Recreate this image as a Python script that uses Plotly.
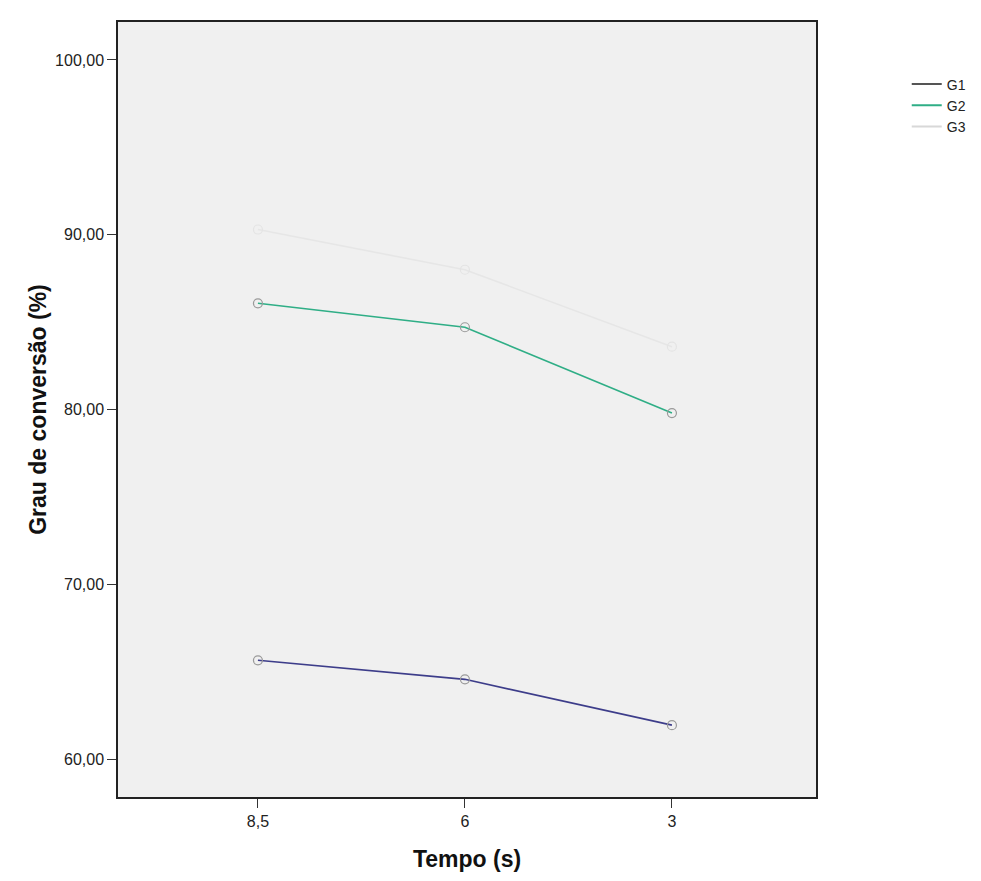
import plotly.graph_objects as go

categories = ["8,5", "6", "3"]
g1 = [65.66, 64.57, 61.95]
g2 = [86.08, 84.71, 79.80]
g3 = [90.3, 88.0, 83.6]
series_names = ["G1", "G2", "G3"]
series_values = [g1, g2, g3]
colors = ["#3d3d8a", "#2fae86", "#e6e6e6"]
marker_colors = ["#9a9a9a", "#9a9a9a", "#e4e4e4"]
legend_colors = ["#555555", "#2fae86", "#d8d8d8"]
y_ticks = [60, 70, 80, 90, 100]

fig = go.Figure()
for name, vals, col, mc in zip(series_names, series_values, colors, marker_colors):
    fig.add_trace(go.Scatter(
        x=categories, y=vals, name=name, mode="lines+markers",
        line=dict(color=col, width=1.6), showlegend=False,
        marker=dict(symbol="circle-open", size=9, color=mc, line=dict(width=1.2)),
    ))
for name, lc in zip(series_names, legend_colors):
    fig.add_trace(go.Scatter(
        x=[None], y=[None], name=name, mode="lines",
        line=dict(color=lc, width=2), showlegend=True,
    ))

title_font = dict(family="Liberation Sans, Arial", size=23, color="#111111")

fig.update_layout(
    width=981, height=881,
    margin=dict(l=110, r=173, t=12, b=92),
    paper_bgcolor="white",
    plot_bgcolor="#f0f0f0",
    separators=",.",
    font=dict(family="Liberation Sans, Arial", size=14, color="#222222"),
    legend=dict(x=1.13, y=0.94, xanchor="left", yanchor="top",
                bgcolor="rgba(0,0,0,0)", font=dict(size=14, color="#222222"),
                itemwidth=30, tracegroupgap=0),
)
fig.update_xaxes(
    type="category", range=[-0.676, 2.696],
    showline=True, linecolor="#222222", linewidth=1.5, mirror=True,
    ticks="outside", ticklen=9, tickcolor="#333333", showgrid=False,
    zeroline=False, tickfont=dict(size=16),
    title=dict(text="<b>Tempo (s)</b>", font=title_font, standoff=22),
)
fig.update_yaxes(
    range=[57.84, 102.17], tickvals=y_ticks, tickformat=".2f",
    showline=True, linecolor="#222222", linewidth=1.5, mirror=True,
    ticks="outside", ticklen=9, tickcolor="#333333", showgrid=False,
    zeroline=False, tickfont=dict(size=16),
    title=dict(text="<b>Grau de conversão (%)</b>", font=title_font, standoff=2),
)

fig.write_html("out.html")
